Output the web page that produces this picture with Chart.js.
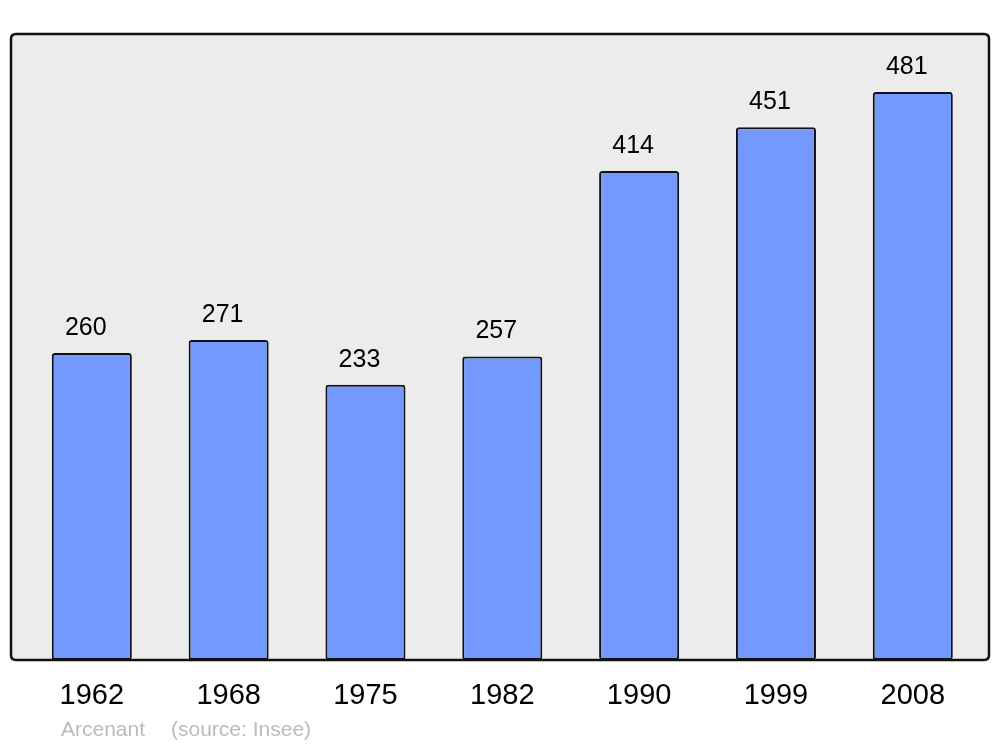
<!DOCTYPE html>
<html>
<head>
<meta charset="utf-8">
<title>Population</title>
<script src="https://cdn.jsdelivr.net/npm/chart.js@4"></script>
<style>
  body { margin: 0; background: #fff; }
  #wrap { width: 1000px; height: 747px; }
</style>
</head>
<body>
<div id="wrap"><canvas id="myChart" width="1000" height="747"></canvas></div>
<script>
const years = ['1962', '1968', '1975', '1982', '1990', '1999', '2008'];
const population = [260, 271, 233, 257, 414, 451, 481];
const yMax = 530;
const footerLeft = 'Arcenant';
const footerRight = '(source: Insee)';

const FONT = '"Liberation Sans", Arial, sans-serif';

function roundRect(c, x, y, w, h, r) {
  c.beginPath();
  c.moveTo(x + r, y);
  c.lineTo(x + w - r, y);
  c.quadraticCurveTo(x + w, y, x + w, y + r);
  c.lineTo(x + w, y + h - r);
  c.quadraticCurveTo(x + w, y + h, x + w - r, y + h);
  c.lineTo(x + r, y + h);
  c.quadraticCurveTo(x, y + h, x, y + h - r);
  c.lineTo(x, y + r);
  c.quadraticCurveTo(x, y, x + r, y);
  c.closePath();
}

// grey panel behind the bars, outline drawn on top
const panel = {
  id: 'panel',
  beforeDatasetsDraw(chart) {
    const c = chart.ctx;
    c.save();
    roundRect(c, 11, 34, 978, 626, 5);
    c.fillStyle = '#ececec';
    c.fill();
    c.restore();
  },
  afterDatasetsDraw(chart) {
    const c = chart.ctx;
    const meta = chart.getDatasetMeta(0);
    c.save();
    c.font = '25px ' + FONT;
    c.fillStyle = '#000';
    c.textAlign = 'center';
    c.textBaseline = 'alphabetic';
    meta.data.forEach((bar, i) => {
      c.fillText(String(population[i]), bar.x - 6, bar.y - 18);
    });
    roundRect(c, 11, 34, 978, 626, 5);
    c.lineWidth = 2.5;
    c.strokeStyle = '#111';
    c.stroke();
    c.font = '21px ' + FONT;
    c.fillStyle = '#bbbbbb';
    c.textAlign = 'left';
    c.textBaseline = 'middle';
    c.fillText(footerLeft, 61, 730);
    c.fillText(footerRight, 171, 730);
    c.restore();
  }
};

const ctx = document.getElementById('myChart');

new Chart(ctx, {
  type: 'bar',
  data: {
    labels: years,
    datasets: [{
      data: population,
      backgroundColor: 'rgb(115, 153, 255)',
      borderColor: '#111',
      borderWidth: 2,
      borderRadius: 3,
      borderSkipped: false,
      categoryPercentage: 1,
      barPercentage: 0.585
    }]
  },
  options: {
    responsive: false,
    animation: false,
    layout: {
      padding: { left: 23.4, right: 18.8, top: 34, bottom: 0 }
    },
    plugins: {
      legend: { display: false },
      tooltip: { enabled: false }
    },
    scales: {
      x: {
        grid: { display: false, drawTicks: false },
        border: { display: false },
        ticks: {
          color: '#000',
          font: { family: FONT, size: 29 },
          padding: 19,
          maxRotation: 0
        },
        afterFit(scale) { scale.height = 87; }
      },
      y: {
        display: false,
        min: 0,
        max: yMax
      }
    }
  },
  plugins: [panel]
});
</script>
</body>
</html>
